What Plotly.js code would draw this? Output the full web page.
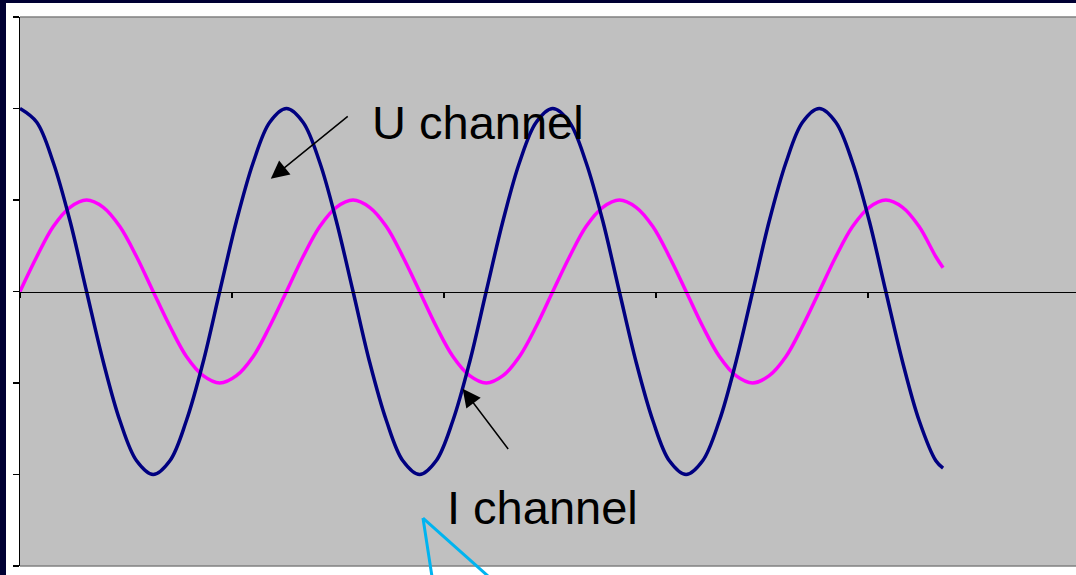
<!DOCTYPE html>
<html><head><meta charset="utf-8">
<script src="https://cdn.plot.ly/plotly-3.0.1.min.js"></script>
<style>
html,body{margin:0;padding:0;background:#000033;width:1076px;height:575px;overflow:hidden}
#chart{position:absolute;left:6px;top:3px;width:1070px;height:572px;}
</style>
</head><body><div id="chart"></div>
<script>
// time axis samples
const tValues = [0.000, 0.079, 0.157, 0.236, 0.314, 0.393, 0.471, 0.550, 0.628, 0.707, 0.785, 0.864, 0.942, 1.021,
  1.100, 1.178, 1.257, 1.335, 1.414, 1.492, 1.571, 1.649, 1.728, 1.806, 1.885, 1.963, 2.042, 2.121,
  2.199, 2.278, 2.356, 2.435, 2.513, 2.592, 2.670, 2.749, 2.827, 2.906, 2.985, 3.063, 3.142, 3.220,
  3.299, 3.377, 3.456, 3.534, 3.613, 3.691, 3.770, 3.848, 3.927, 4.006, 4.084, 4.163, 4.241, 4.320, 4.354];
// U channel (navy)
const uChannel = [2, 1.85, 1.41, 0.77, 0, -0.77, -1.41, -1.85, -2, -1.85, -1.41, -0.77, 0, 0.77, 1.41, 1.85,
  2, 1.85, 1.41, 0.77, 0, -0.77, -1.41, -1.85, -2, -1.85, -1.41, -0.77, 0, 0.77, 1.41, 1.85,
  2, 1.85, 1.41, 0.77, 0, -0.77, -1.41, -1.85, -2, -1.85, -1.41, -0.77, 0, 0.77, 1.41, 1.85,
  2, 1.85, 1.41, 0.77, 0, -0.77, -1.41, -1.85, -1.93];
// I channel (magenta)
const iChannel = [0, 0.38, 0.71, 0.92, 1, 0.92, 0.71, 0.38, 0, -0.38, -0.71, -0.92, -1, -0.92, -0.71, -0.38,
  0, 0.38, 0.71, 0.92, 1, 0.92, 0.71, 0.38, 0, -0.38, -0.71, -0.92, -1, -0.92, -0.71, -0.38,
  0, 0.38, 0.71, 0.92, 1, 0.92, 0.71, 0.38, 0, -0.38, -0.71, -0.92, -1, -0.92, -0.71, -0.38,
  0, 0.38, 0.71, 0.92, 1, 0.92, 0.71, 0.38, 0.26];
const yTicks = [-3, -2, -1, 0, 1, 2, 3];
const xTicks = [0, 1, 2, 3, 4];
const labels = ["U channel", "I channel"];

const font = {family: "Liberation Sans, Arial, sans-serif", size: 47, color: "#000"};

const traces = [
  {x: tValues, y: iChannel, type: "scatter", mode: "lines", line: {color: "#FF00FF", width: 3.5, shape: "spline"}, hoverinfo: "skip"},
  {x: tValues, y: uChannel, type: "scatter", mode: "lines", line: {color: "#000080", width: 3.5, shape: "spline"}, hoverinfo: "skip"}
];

const layout = {
  width: 1070, height: 572,
  margin: {l: 14, r: 0, t: 14, b: 9, autoexpand: false},
  paper_bgcolor: "#FFFFFF",
  plot_bgcolor: "#C0C0C0",
  showlegend: false,
  xaxis: {
    range: [0, 4.981], anchor: "free", position: 0.5,
    showline: true, linecolor: "#000", linewidth: 1.5,
    ticks: "outside", ticklen: 5, tickcolor: "#000", tickwidth: 1.5,
    tickvals: xTicks, showticklabels: false, showgrid: false, zeroline: false, fixedrange: true
  },
  yaxis: {
    range: [-3, 3], showline: true, linecolor: "#000", linewidth: 1.5,
    ticks: "outside", ticklen: 6, tickcolor: "#000", tickwidth: 1.5,
    tickvals: yTicks, showticklabels: false, showgrid: false, zeroline: false, fixedrange: true
  },
  shapes: [
    {type: "line", xref: "paper", yref: "paper", x0: 0, x1: 1, y0: 1, y1: 1, line: {color: "#808080", width: 1.5}},
    {type: "line", xref: "paper", yref: "paper", x0: 0, x1: 1, y0: 0, y1: 0, line: {color: "#808080", width: 1.5}},
    {type: "line", xref: "paper", yref: "paper", x0: 0.3816, y0: 0.0874, x1: 0.3910, y1: -0.03, line: {color: "#00B4F0", width: 3}},
    {type: "line", xref: "paper", yref: "paper", x0: 0.3816, y0: 0.0874, x1: 0.4500, y1: -0.03, line: {color: "#00B4F0", width: 3}}
  ],
  annotations: [
    {x: 2.160, y: 1.852, xref: "x", yref: "y", text: labels[0], showarrow: false, font: font, xanchor: "center", yanchor: "middle"},
    {x: 2.464, y: -2.366, xref: "x", yref: "y", text: labels[1], showarrow: false, font: font, xanchor: "center", yanchor: "middle"},
    {x: 1.183, y: 1.232, ax: 1.553, ay: 1.927, xref: "x", yref: "y", axref: "x", ayref: "y", text: "", showarrow: true,
      arrowhead: 2, arrowsize: 2.4, arrowwidth: 1.5, arrowcolor: "#000"},
    {x: 2.088, y: -1.063, ax: 2.308, ay: -1.738, xref: "x", yref: "y", axref: "x", ayref: "y", text: "", showarrow: true,
      arrowhead: 2, arrowsize: 2.4, arrowwidth: 1.5, arrowcolor: "#000"}
  ]
};

Plotly.newPlot("chart", traces, layout, {displayModeBar: false, staticPlot: true});
</script>
</body></html>
